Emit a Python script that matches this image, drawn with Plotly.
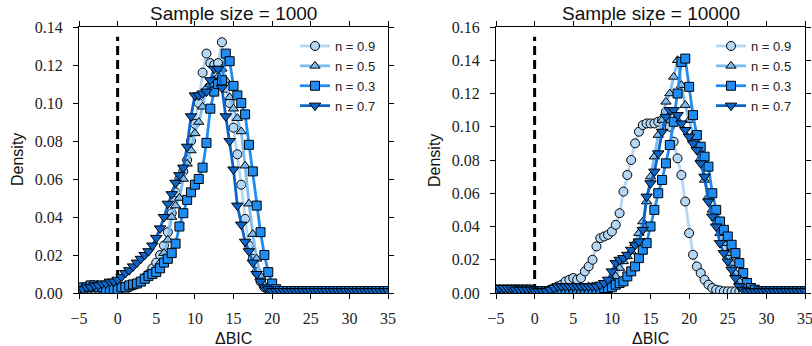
import plotly.graph_objects as go

dbic = [round(-5 + 0.5 * i, 1) for i in range(81)]

series_names = ["n = 0.9", "n = 0.5", "n = 0.3", "n = 0.7"]
titles = ["Sample size = 1000", "Sample size = 10000"]

# Sample size = 1000
L09 = [0.002,0.002,0.002,0.002,0.002,0.002,0.002,0.002,0.002,0.002,
       0.002,0.002,0.002,0.003,0.004,0.005,0.006,0.008,0.010,0.013,
       0.016,0.020,0.025,0.032,0.042,0.053,0.060,0.064,0.070,0.080,
       0.089,0.100,0.116,0.126,0.121,0.120,0.121,0.132,0.108,0.100,
       0.087,0.073,0.057,0.039,0.025,0.018,0.011,0.006,0.003,0.002,
       0.001,0.001,0.001,0.001,0.001,0.001,0.001,0.001,0.001,0.001,
       0.001,0.001,0.001,0.001,0.001,0.001,0.001,0.001,0.001,0.001,
       0.001,0.001,0.001,0.001,0.001,0.001,0.001,0.001,0.001,0.001,0.001]
L05 = [0.002,0.002,0.002,0.002,0.002,0.002,0.002,0.002,0.002,0.002,
       0.002,0.002,0.003,0.003,0.004,0.005,0.006,0.007,0.009,0.011,
       0.013,0.016,0.021,0.028,0.040,0.046,0.050,0.060,0.068,0.075,
       0.084,0.090,0.098,0.108,0.110,0.112,0.114,0.118,0.112,0.103,
       0.097,0.092,0.085,0.067,0.047,0.031,0.018,0.009,0.004,0.002,
       0.001,0.001,0.001,0.001,0.001,0.001,0.001,0.001,0.001,0.001,
       0.001,0.001,0.001,0.001,0.001,0.001,0.001,0.001,0.001,0.001,
       0.001,0.001,0.001,0.001,0.001,0.001,0.001,0.001,0.001,0.001,0.001]
L03 = [0.002,0.003,0.003,0.004,0.004,0.003,0.003,0.002,0.002,0.002,
       0.002,0.003,0.003,0.004,0.0045,0.005,0.006,0.0075,0.009,0.010,
       0.011,0.013,0.016,0.018,0.021,0.026,0.035,0.042,0.049,0.053,
       0.057,0.060,0.066,0.079,0.097,0.106,0.110,0.112,0.126,0.122,
       0.109,0.104,0.100,0.094,0.078,0.064,0.046,0.032,0.020,0.011,
       0.005,0.002,0.001,0.001,0.001,0.001,0.001,0.001,0.001,0.001,
       0.001,0.001,0.001,0.001,0.001,0.001,0.001,0.001,0.001,0.001,
       0.001,0.001,0.001,0.001,0.001,0.001,0.001,0.001,0.001,0.001,0.001]
L07 = [0.002,0.002,0.003,0.003,0.004,0.004,0.005,0.005,0.006,0.006,
       0.007,0.0085,0.0105,0.012,0.014,0.016,0.018,0.020,0.022,0.025,
       0.029,0.034,0.040,0.047,0.052,0.058,0.062,0.066,0.077,0.093,
       0.104,0.104,0.105,0.106,0.112,0.118,0.118,0.108,0.093,0.080,
       0.065,0.046,0.036,0.027,0.022,0.016,0.010,0.006,0.003,0.002,
       0.001,0.001,0.001,0.001,0.001,0.001,0.001,0.001,0.001,0.001,
       0.001,0.001,0.001,0.001,0.001,0.001,0.001,0.001,0.001,0.001,
       0.001,0.001,0.001,0.001,0.001,0.001,0.001,0.001,0.001,0.001,0.001]

# Sample size = 10000
R09 = [0.002,0.002,0.002,0.002,0.002,0.002,0.002,0.002,0.002,0.002,
       0.001,0.001,0.001,0.001,0.002,0.003,0.004,0.005,0.007,0.008,
       0.009,0.008,0.009,0.013,0.016,0.020,0.028,0.033,0.034,0.035,
       0.037,0.041,0.048,0.061,0.071,0.080,0.090,0.097,0.101,0.102,
       0.102,0.102,0.103,0.104,0.109,0.100,0.091,0.081,0.071,0.055,
       0.036,0.023,0.016,0.012,0.008,0.005,0.003,0.002,0.0015,0.001,
       0.001,0.001,0.001,0.001,0.001,0.001,0.001,0.001,0.001,0.001,
       0.001,0.001,0.001,0.001,0.001,0.001,0.001,0.001,0.001,0.001,0.001]
R05 = [0.002,0.002,0.002,0.002,0.002,0.002,0.002,0.002,0.002,0.002,
       0.001,0.001,0.001,0.001,0.001,0.003,0.003,0.003,0.003,0.003,
       0.003,0.003,0.003,0.003,0.004,0.004,0.004,0.004,0.004,0.005,
       0.007,0.010,0.015,0.019,0.022,0.025,0.030,0.036,0.043,0.055,
       0.070,0.082,0.095,0.104,0.115,0.120,0.130,0.140,0.125,0.113,
       0.104,0.095,0.088,0.081,0.068,0.058,0.050,0.042,0.036,0.030,
       0.024,0.018,0.012,0.007,0.004,0.002,0.001,0.001,0.001,0.001,
       0.001,0.001,0.001,0.001,0.001,0.001,0.001,0.001,0.001,0.001,0.001]
R03 = [0.002,0.002,0.002,0.002,0.002,0.002,0.002,0.002,0.002,0.002,
       0.001,0.001,0.001,0.001,0.001,0.002,0.002,0.002,0.002,0.002,
       0.002,0.002,0.002,0.002,0.002,0.002,0.002,0.002,0.003,0.003,
       0.0035,0.005,0.006,0.007,0.010,0.013,0.016,0.021,0.026,0.030,
       0.040,0.050,0.060,0.068,0.078,0.089,0.103,0.120,0.139,0.141,
       0.124,0.107,0.095,0.088,0.082,0.076,0.060,0.050,0.043,0.038,
       0.034,0.029,0.024,0.018,0.012,0.006,0.003,0.002,0.001,0.001,
       0.001,0.001,0.001,0.001,0.001,0.001,0.001,0.001,0.001,0.001,0.001]
R07 = [0.002,0.003,0.003,0.003,0.003,0.002,0.002,0.002,0.002,0.002,
       0.001,0.001,0.001,0.001,0.002,0.003,0.004,0.004,0.004,0.004,
       0.004,0.004,0.004,0.004,0.004,0.004,0.004,0.005,0.006,0.008,
       0.013,0.018,0.020,0.021,0.023,0.026,0.029,0.031,0.038,0.058,
       0.066,0.073,0.084,0.097,0.106,0.110,0.110,0.107,0.102,0.098,
       0.094,0.090,0.086,0.078,0.070,0.055,0.046,0.040,0.030,0.024,
       0.019,0.014,0.009,0.004,0.002,0.001,0.001,0.001,0.001,0.001,
       0.001,0.001,0.001,0.001,0.001,0.001,0.001,0.001,0.001,0.001,0.001]

x_ticks = [-5, 0, 5, 10, 15, 20, 25, 30, 35]
left_y_ticks = [0.00, 0.02, 0.04, 0.06, 0.08, 0.10, 0.12, 0.14]
right_y_ticks = [0.00, 0.02, 0.04, 0.06, 0.08, 0.10, 0.12, 0.14, 0.16]

colors = ["#b4d7f5", "#7ebdf2", "#1e8cf2", "#0c64c6"]
symbols = ["circle", "triangle-up", "square", "triangle-down"]
sizes = [9, 9, 9, 10]

W, H = 812, 346
def fx(px):
    return px / W
def fy(py):
    return 1 - py / H

fig = go.Figure()
panels = [([L09, L05, L03, L07], "x", "y", "legend"),
          ([R09, R05, R03, R07], "x2", "y2", "legend2")]
for data, xa, ya, leg in panels:
    for k, ys in enumerate(data):
        fig.add_trace(go.Scatter(
            x=dbic, y=ys, xaxis=xa, yaxis=ya, mode="lines+markers",
            name=series_names[k], legend=leg,
            line=dict(color=colors[k], width=2.8),
            marker=dict(symbol=symbols[k], size=sizes[k], color=colors[k],
                        line=dict(color="black", width=1)),
        ))

tickfont = dict(family="Liberation Serif", size=16, color="#222")
axis_common = dict(showline=True, linecolor="black", linewidth=1.3, mirror="allticks",
                   ticks="outside", ticklen=5, tickwidth=1, tickcolor="black",
                   showgrid=False, zeroline=False, tickfont=tickfont, automargin=False)

leg_font = dict(family="Liberation Sans", size=13, color="#222")
fig.update_layout(
    width=W, height=H, margin=dict(l=0, r=0, t=0, b=0, autoexpand=False),
    paper_bgcolor="white", plot_bgcolor="white", showlegend=True,
    xaxis=dict(domain=[fx(79), fx(388)], range=[-5, 35], tickvals=x_ticks,
               anchor="y", ticklabelstandoff=6, **axis_common),
    yaxis=dict(domain=[fy(293), fy(27)], range=[0, 0.14], tickvals=left_y_ticks,
               tickformat=".2f", anchor="x", ticklabelstandoff=7, **axis_common),
    xaxis2=dict(domain=[fx(496), fx(805)], range=[-5, 35], tickvals=x_ticks,
                anchor="y2", ticklabelstandoff=6, ticklabeloverflow="allow", **axis_common),
    yaxis2=dict(domain=[fy(293), fy(27)], range=[0, 0.16], tickvals=right_y_ticks,
                tickformat=".2f", anchor="x2", ticklabelstandoff=7, **axis_common),
    legend=dict(x=fx(381), y=fy(31), xanchor="right", yanchor="top",
                bgcolor="rgba(0,0,0,0)", tracegroupgap=0, font=leg_font),
    legend2=dict(x=fx(797), y=fy(31), xanchor="right", yanchor="top",
                 bgcolor="rgba(0,0,0,0)", tracegroupgap=0, font=leg_font),
)

# dashed vertical lines at x = 0
for xr, yr in [("x", "y domain"), ("x2", "y2 domain")]:
    fig.add_shape(type="line", xref=xr, yref=yr, x0=0, x1=0, y0=0, y1=0.963,
                  line=dict(color="black", width=3, dash="9px,5px"), layer="below")

ann_font = dict(family="Liberation Sans", size=19, color="#111")
lab_font = dict(family="Liberation Sans", size=16, color="#111")
for i, t in enumerate(titles):
    cx = (79 + 388) / 2 if i == 0 else (496 + 805) / 2
    fig.add_annotation(text=t, x=fx(cx), y=fy(13), xref="paper", yref="paper",
                       showarrow=False, font=ann_font, xanchor="center", yanchor="middle")
    fig.add_annotation(text="ΔBIC", x=fx(cx), y=fy(338), xref="paper", yref="paper",
                       showarrow=False, font=lab_font, xanchor="center", yanchor="middle")
    lx = 17 if i == 0 else 434
    fig.add_annotation(text="Density", x=fx(lx), y=fy(160), xref="paper", yref="paper",
                       showarrow=False, font=lab_font, textangle=-90,
                       xanchor="center", yanchor="middle")

fig.write_html("out.html", config={"displayModeBar": False},
               post_script="document.body.style.margin='0';document.body.style.overflow='hidden';")
